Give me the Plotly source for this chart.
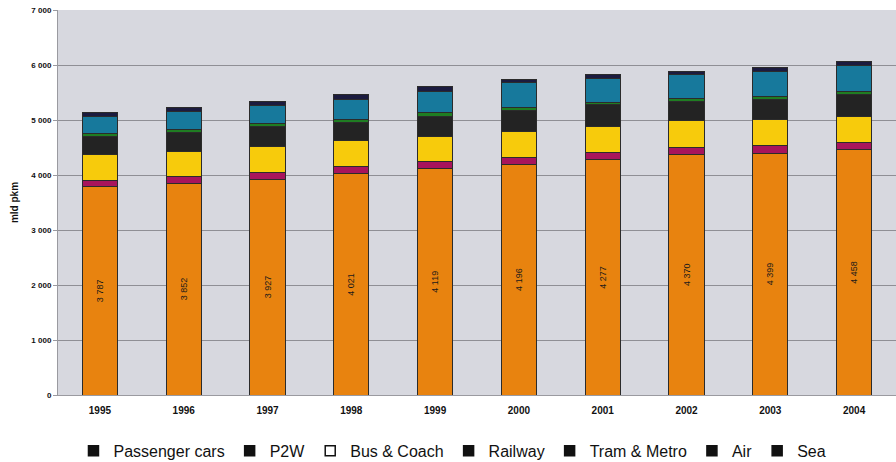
import plotly.graph_objects as go

# Passenger transport performance by mode, billion passenger-km
years = ["1995", "1996", "1997", "1998", "1999", "2000", "2001", "2002", "2003", "2004"]
passenger_cars = [3787, 3852, 3927, 4021, 4119, 4196, 4277, 4370, 4399, 4458]
p2w = [118, 124, 115, 128, 125, 127, 128, 128, 130, 140]
bus_coach = [465, 445, 470, 475, 460, 470, 472, 488, 478, 470]
railway = [322, 350, 372, 330, 366, 382, 398, 358, 368, 398]
tram_metro = [62, 50, 50, 60, 65, 50, 50, 55, 60, 45]
air = [305, 330, 330, 365, 390, 450, 430, 430, 440, 478]
sea = [70, 72, 78, 92, 80, 67, 79, 62, 74, 73]

modes = ["Passenger cars", "P2W", "Bus & Coach", "Railway", "Tram & Metro", "Air", "Sea"]
series = [passenger_cars, p2w, bus_coach, railway, tram_metro, air, sea]
colors = ["#E8830F", "#A8145C", "#F7CB0C", "#232323", "#1F7D22", "#17799C", "#1B1B3F"]
legend_symbols = ["square", "square", "square-open", "square", "square", "square", "square"]

fig = go.Figure()

def spaced(v):
    return f"{v:,}".replace(",", " ")

for name, vals, col in zip(modes, series, colors):
    is_cars = name == "Passenger cars"
    fig.add_trace(go.Bar(
        x=years, y=vals, name=name,
        marker=dict(color=col, line=dict(color="#2b2b2b", width=1)),
        text=[spaced(v) for v in vals] if is_cars else None,
        textposition="inside" if is_cars else "none",
        insidetextanchor="middle",
        textangle=-90,
        textfont=dict(family="Arial", size=9, color="#1a1a1a"),
        constraintext="none",
        showlegend=False,
        hoverinfo="x+y+name",
    ))

# Legend keys are drawn as plain black squares
for name, sym in zip(modes, legend_symbols):
    fig.add_trace(go.Scatter(
        x=[None], y=[None], mode="markers", name=name,
        marker=dict(symbol=sym, size=10, color="#111111",
                    line=dict(color="#111111", width=1.5)),
        showlegend=True,
    ))

fig.update_layout(
    barmode="stack",
    bargap=0.58,
    width=896, height=462,
    margin=dict(l=58, r=0, t=10, b=67),
    paper_bgcolor="white",
    plot_bgcolor="#D7D8DF",
    separators=". ",
    font=dict(family="Arial", color="#111111"),
    legend=dict(
        orientation="h",
        traceorder="normal",
        xref="container", yref="container",
        x=0.505, xanchor="center",
        y=0.024, yanchor="middle",
        font=dict(family="Arial", size=16, color="#111111"),
        bgcolor="rgba(0,0,0,0)",
        itemclick=False,
    ),
)

fig.update_yaxes(
    range=[0, 7000], dtick=1000, tickformat=",.0f",
    showgrid=True, gridcolor="#8F8F95", gridwidth=1,
    showline=True, linecolor="#9A9AA0", linewidth=1,
    ticks="outside", ticklen=4, tickcolor="#9A9AA0",
    tickfont=dict(family="Arial", size=8, weight="bold", color="#111111"),
    title=dict(text="mld pkm", font=dict(family="Arial", size=10, weight="bold", color="#111111"),
               standoff=10),
    zeroline=False,
)

fig.update_xaxes(
    showgrid=False, showline=True, linecolor="#9A9AA0", linewidth=1,
    ticks="", ticklabelstandoff=6,
    tickfont=dict(family="Arial", size=10, weight="bold", color="#111111"),
)

fig.write_html("out.html")
